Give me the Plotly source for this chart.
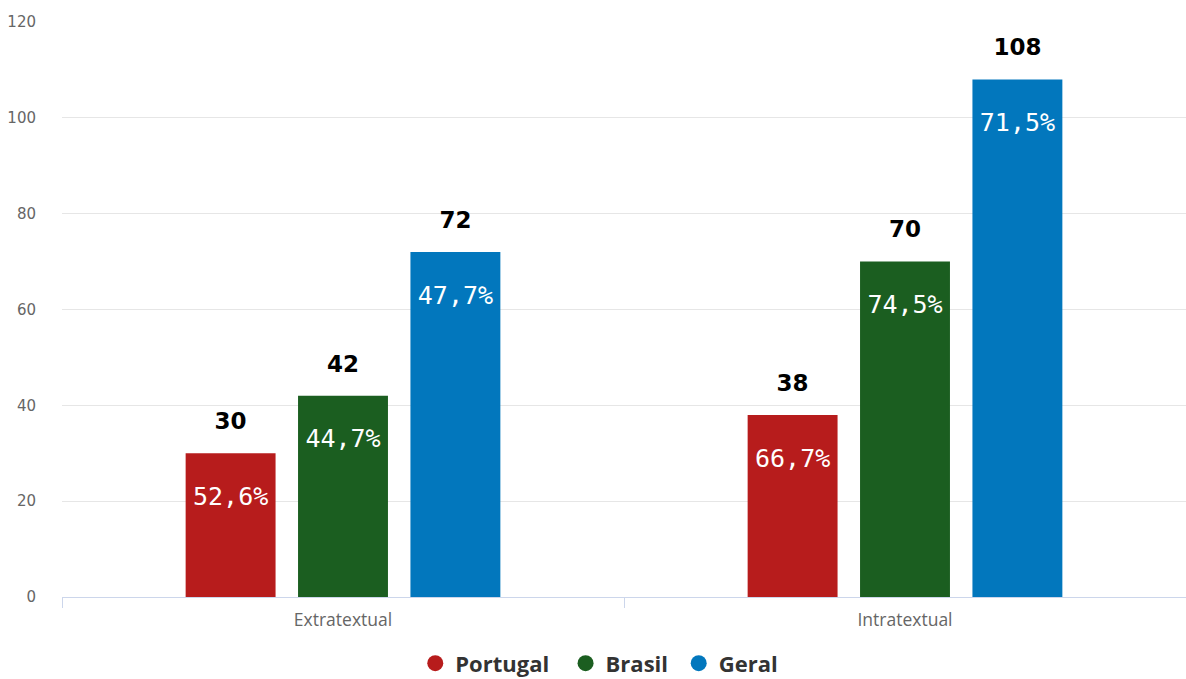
import plotly.graph_objects as go

categories = ["Extratextual", "Intratextual"]
series_names = ["Portugal", "Brasil", "Geral"]
legend_labels = ["Portugal\u00a0\u00a0", "Brasil\u00a0", "Geral"]
series_values = {
    "Portugal": [30, 38],
    "Brasil": [42, 70],
    "Geral": [72, 108],
}
series_pct = {
    "Portugal": ["52,6%", "66,7%"],
    "Brasil": ["44,7%", "74,5%"],
    "Geral": ["47,7%", "71,5%"],
}
colors = {"Portugal": "#b71c1c", "Brasil": "#1b5e20", "Geral": "#0277bd"}
y_ticks = [0, 20, 40, 60, 80, 100, 120]

# label placement (style constants, data units)
VALUE_LABEL_GAP = 2.5
VALUE_LABEL_BAND = 8.4
PCT_LABEL_BAND = 18

fig = go.Figure()
for name, label in zip(series_names, legend_labels):
    vals = series_values[name]
    fig.add_trace(go.Bar(
        x=categories, y=vals, name=name, offsetgroup=name,
        marker=dict(color=colors[name], line=dict(width=0)),
        showlegend=False, hoverinfo="skip",
    ))
    # percentage label inside, near the top
    fig.add_trace(go.Bar(
        x=categories, y=[PCT_LABEL_BAND] * len(vals),
        base=[v - PCT_LABEL_BAND for v in vals], offsetgroup=name,
        marker=dict(color="rgba(0,0,0,0)", line=dict(width=0)),
        text=series_pct[name], textposition="inside", insidetextanchor="middle",
        textangle=0,
        textfont=dict(family="DejaVu Sans Mono", size=25, color="white"),
        showlegend=False, hoverinfo="skip",
    ))
    # value label above the bar
    fig.add_trace(go.Bar(
        x=categories, y=[VALUE_LABEL_BAND] * len(vals),
        base=[v + VALUE_LABEL_GAP for v in vals], offsetgroup=name,
        marker=dict(color="rgba(0,0,0,0)", line=dict(width=0)),
        text=[str(v) for v in vals], textposition="inside", insidetextanchor="middle",
        textangle=0,
        textfont=dict(family="DejaVu Sans", size=23, color="black", weight="bold"),
        showlegend=False, hoverinfo="skip", cliponaxis=False,
    ))
    # legend entry
    fig.add_trace(go.Scatter(
        x=[None], y=[None], mode="markers", name=label,
        marker=dict(symbol="circle", size=20, color=colors[name]),
    ))

fig.update_layout(
    width=1186, height=679,
    margin=dict(l=62, r=0, t=22, b=82),
    paper_bgcolor="white", plot_bgcolor="white",
    barmode="group", bargap=0.4, bargroupgap=0.2,
    showlegend=True,
    legend=dict(
        orientation="h", x=0.478, xanchor="center",
        yref="container", y=0.023, yanchor="middle",
        font=dict(family="Open Sans", size=22, color="#333333", weight="bold"),
        itemsizing="trace",
    ),
    xaxis=dict(
        type="category", tickson="boundaries", ticks="outside", ticklen=10,
        tickcolor="#ccd6eb", showline=True, linecolor="#ccd6eb", linewidth=1,
        showgrid=False, tickfont=dict(family="Open Sans", size=17.5, color="#666666"),
        zeroline=False, ticklabelstandoff=7, automargin=False,
    ),
    yaxis=dict(
        range=[0, 120], tickvals=y_ticks, showgrid=True, gridcolor="#e6e6e6",
        zeroline=False, showline=False, ticks="outside", ticklen=22,
        tickcolor="rgba(0,0,0,0)", automargin=False,
        tickfont=dict(family="DejaVu Sans", size=15, color="#666666"),
    ),
)

fig.write_html("out.html")
